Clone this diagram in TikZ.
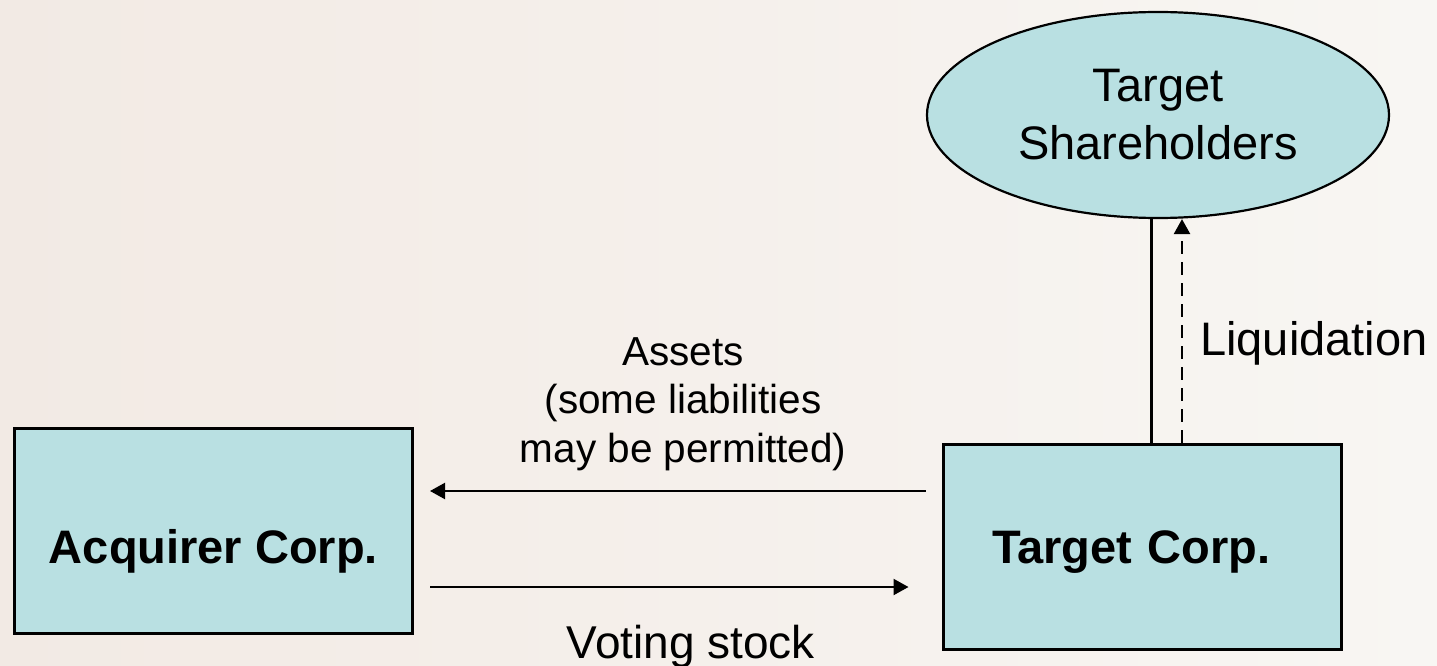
\documentclass[tikz,border=0pt]{standalone}
\usepackage{fontspec}
\setmainfont{Liberation Sans}
\usetikzlibrary{arrows.meta,shapes.geometric}
\definecolor{paperL}{RGB}{242,234,228}
\definecolor{paperR}{RGB}{248,246,243}
\definecolor{boxfill}{RGB}{185,224,226}
\begin{document}
\begin{tikzpicture}[x=1pt,y=-1pt,
  corp/.style={rectangle, draw=black, line width=3pt, fill=boxfill,
    minimum width=398pt, minimum height=205pt, inner sep=0pt, text depth=0pt,
    font=\fontsize{47}{56}\selectfont\bfseries},
  holders/.style={ellipse, draw=black, line width=2.2pt, fill=boxfill,
    minimum width=462pt, minimum height=206pt, inner sep=0pt, align=center,
    font=\fontsize{47}{58}\selectfont},
  tip/.style={-{Triangle[length=15pt,width=16pt]}},
  flow/.style={tip, line width=2.2pt},
  tie/.style={line width=3pt},
  payout/.style={tip, line width=2.5pt, dash pattern=on 13pt off 8pt},
  lbl/.style={inner sep=0pt, font=\fontsize{47}{56}\selectfont}
]
% paper background
\useasboundingbox (0,0) rectangle (1437,666);
\shade[left color=paperL, right color=paperR] (0,0) rectangle (1437,666);

% parties
\node[corp, text height=64pt] (acq) at (213.5,531) {Acquirer Corp.};
\node[corp, text height=33pt, text width=300pt, align=left] (tgt) at (1142,546.5) {Target Corp.};
\node[holders] (ell) at (1158,115) {Target\\Shareholders};

% assets flow to the acquirer, stock flows to the target
\draw[flow, shorten <=16pt, shorten >=16pt] (tgt.west |- 0,491) -- (acq.east |- 0,491);
\draw[flow, shorten <=16pt, shorten >=33pt] (acq.east |- 0,587) -- (tgt.west |- 0,587);

% ownership link and liquidation to shareholders
\draw[tie] (tgt.north -| 1151,0) -- (ell.south -| 1151,0);
\draw[payout] (tgt.north -| 1182,0) -- (ell.south -| 1182,0);

% flow labels
\node[lbl, font=\fontsize{40.5}{48.5}\selectfont, align=center] (assets) at (683,404)
  {Assets\\(some liabilities\\may be permitted)};
\node[lbl, font=\fontsize{46}{55}\selectfont, anchor=base] (voting) at (691,658) {Voting stock};
\node[lbl, anchor=base west] (liq) at (1200,355) {Liquidation};
\end{tikzpicture}
\end{document}
